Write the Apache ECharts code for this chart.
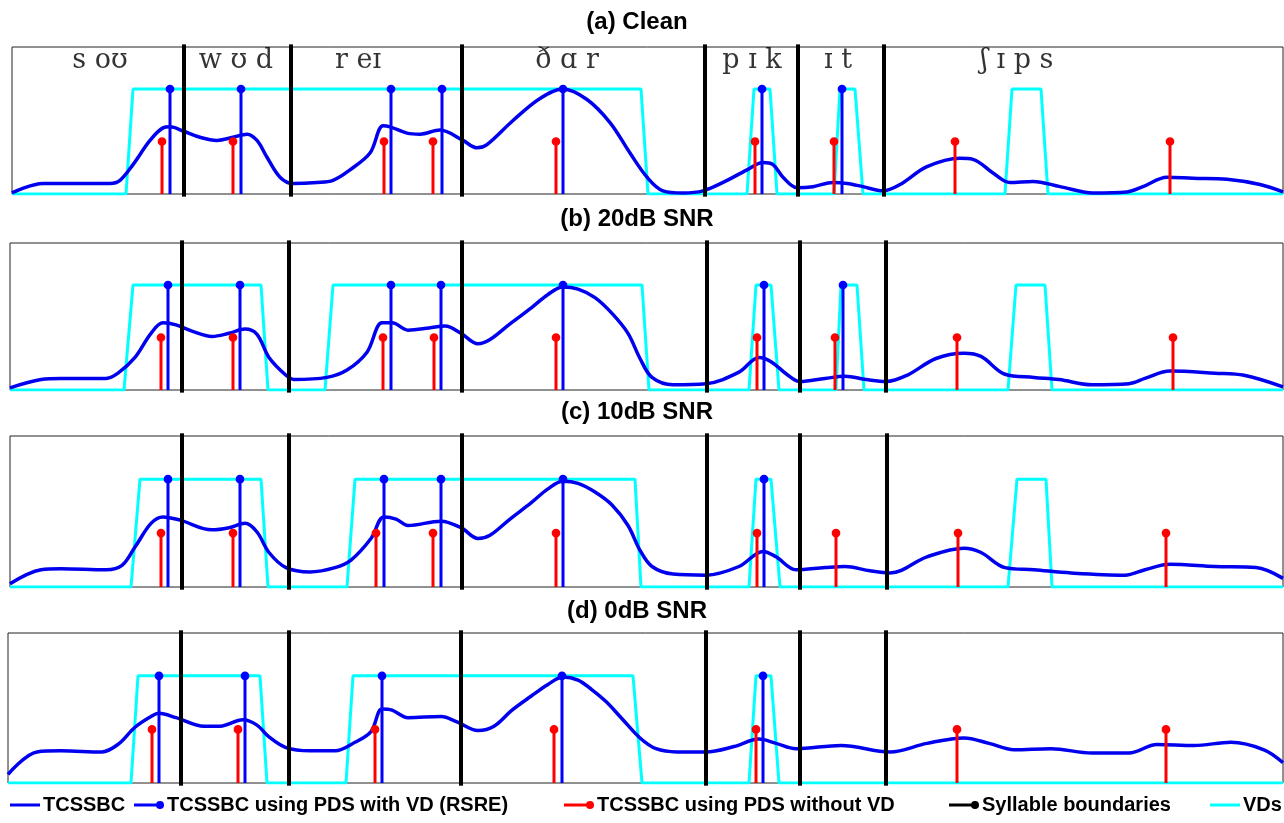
<!DOCTYPE html>
<html>
<head>
<meta charset="utf-8">
<script src="https://cdn.jsdelivr.net/npm/echarts@6/dist/echarts.min.js"></script>
<style>
  html, body { margin: 0; background: #fff; }
  #chart { width: 1284px; height: 823px; }
</style>
</head>
<body>
<div id="chart"></div>
<script>
// panel titles and phone labels (panel a)
const panelTitles = ["(a) Clean", "(b) 20dB SNR", "(c) 10dB SNR", "(d) 0dB SNR"];
const phones = ["s oʊ", "w ʊ d", "r eɪ", "ð ɑ r", "p ɪ k", "ɪ t", "ʃ ɪ p s"];
const phoneX = [100, 236, 358, 567, 752, 838, 1017];

// TCSSBC contour, [time, value]
const curveA = [[12,0.01],[43,0.10],[67,0.10],[110,0.10],[120,0.13],[133,0.28],[150,0.51],[163,0.63],[170,0.64],[183,0.60],[200,0.54],[217,0.51],[233,0.54],[247,0.57],[257,0.51],[267,0.35],[280,0.16],[293,0.10],[317,0.11],[333,0.13],[350,0.23],[370,0.39],[383,0.65],[390,0.64],[407,0.58],[420,0.57],[440,0.61],[463,0.51],[477,0.44],[487,0.47],[513,0.70],[540,0.91],[563,1.0],[587,0.90],[610,0.68],[630,0.39],[647,0.16],[663,0.03],[683,0.01],[703,0.03],[723,0.11],[747,0.23],[763,0.30],[773,0.28],[783,0.16],[797,0.06],[813,0.07],[833,0.11],[847,0.10],[863,0.07],[883,0.03],[900,0.09],[927,0.26],[960,0.34],[973,0.33],[993,0.20],[1010,0.11],[1033,0.12],[1060,0.07],[1093,0.01],[1127,0.02],[1143,0.07],[1167,0.16],[1193,0.15],[1227,0.14],[1260,0.09],[1283,0.02]];
const curveB = [[10,0.02],[41,0.10],[61,0.11],[106,0.11],[118,0.16],[135,0.31],[151,0.54],[163,0.64],[176,0.62],[192,0.56],[212,0.51],[229,0.54],[245,0.58],[257,0.53],[269,0.31],[286,0.14],[294,0.10],[327,0.12],[347,0.19],[367,0.36],[382,0.64],[392,0.64],[408,0.57],[429,0.59],[445,0.61],[461,0.54],[478,0.44],[490,0.48],[510,0.63],[531,0.78],[548,0.91],[563,0.98],[578,0.96],[595,0.88],[612,0.73],[628,0.54],[640,0.30],[652,0.12],[673,0.05],[706,0.06],[739,0.17],[759,0.31],[771,0.27],[788,0.14],[800,0.08],[825,0.11],[845,0.13],[866,0.10],[886,0.08],[907,0.14],[936,0.30],[964,0.35],[981,0.32],[1005,0.15],[1034,0.12],[1059,0.10],[1092,0.05],[1129,0.06],[1145,0.11],[1170,0.18],[1215,0.16],[1244,0.14],[1283,0.03]];
const curveC = [[10,0.03],[41,0.16],[61,0.17],[106,0.16],[122,0.20],[135,0.37],[151,0.59],[163,0.65],[180,0.62],[212,0.53],[229,0.55],[245,0.59],[257,0.51],[269,0.32],[286,0.18],[310,0.14],[335,0.18],[351,0.25],[371,0.45],[384,0.65],[396,0.63],[408,0.57],[441,0.61],[461,0.55],[478,0.45],[490,0.48],[510,0.63],[531,0.78],[548,0.91],[563,0.98],[578,0.96],[595,0.88],[612,0.76],[628,0.57],[640,0.34],[652,0.19],[673,0.12],[706,0.11],[739,0.19],[763,0.33],[776,0.28],[796,0.16],[825,0.18],[845,0.19],[870,0.15],[890,0.13],[927,0.28],[964,0.36],[981,0.32],[1005,0.18],[1034,0.16],[1071,0.13],[1125,0.11],[1145,0.16],[1170,0.21],[1215,0.19],[1256,0.18],[1283,0.08]];
const curveD = [[8,0.08],[37,0.29],[61,0.30],[102,0.29],[118,0.36],[135,0.52],[151,0.62],[159,0.65],[176,0.61],[204,0.53],[220,0.53],[243,0.59],[257,0.54],[269,0.43],[286,0.33],[310,0.30],[335,0.30],[355,0.38],[371,0.48],[382,0.69],[392,0.68],[408,0.61],[441,0.62],[457,0.57],[478,0.49],[494,0.53],[512,0.68],[531,0.81],[548,0.92],[563,0.99],[578,0.96],[592,0.87],[606,0.76],[622,0.60],[640,0.42],[656,0.32],[677,0.29],[706,0.29],[734,0.34],[759,0.41],[776,0.37],[796,0.32],[841,0.35],[890,0.29],[927,0.37],[964,0.42],[989,0.37],[1014,0.31],[1051,0.32],[1092,0.28],[1129,0.28],[1157,0.36],[1194,0.35],[1231,0.38],[1264,0.31],[1283,0.19]];

// voicing decisions (0 / 1)
const vdA = [[12,0],[126,0],[133,1],[641,1],[648,0],[747,0],[754,1],[770,1],[777,0],[834,0],[840,1],[855,1],[863,0],[1005,0],[1012,1],[1041,1],[1048,0],[1283,0]];
const vdB = [[10,0],[124,0],[133,1],[261,1],[268,0],[325,0],[333,1],[642,1],[649,0],[749,0],[756,1],[771,1],[779,0],[836,0],[841,1],[857,1],[864,0],[1008,0],[1016,1],[1045,1],[1052,0],[1283,0]];
const vdC = [[10,0],[131,0],[140,1],[261,1],[268,0],[347,0],[355,1],[635,1],[641,0],[749,0],[756,1],[771,1],[780,0],[1008,0],[1017,1],[1046,1],[1052,0],[1283,0]];
const vdD = [[8,0],[131,0],[138,1],[260,1],[267,0],[346,0],[353,1],[633,1],[642,0],[749,0],[756,1],[771,1],[779,0],[1283,0]];

// detected peaks
const blueA = [170, 241, 391, 442, 563, 762, 842];
const blueB = [168, 240, 391, 441, 563, 764, 843];
const blueC = [168, 240, 384, 441, 563, 764];
const blueD = [159, 245, 382, 562, 763];
const redA = [162, 233, 384, 433, 556, 755, 834, 955, 1170];
const redB = [161, 233, 383, 434, 556, 757, 835, 957, 1173];
const redC = [161, 233, 376, 433, 556, 757, 836, 958, 1166];
const redD = [152, 238, 375, 554, 756, 957, 1166];
const blueLevel = 1;
const redLevel = 0.5;

// syllable boundaries
const boundA = [184, 291, 462, 705, 798, 884];
const boundB = [182, 289, 462, 707, 800, 886];
const boundC = [182, 289, 462, 707, 800, 887];
const boundD = [181, 289, 461, 706, 800, 886];

const legendNames = ["TCSSBC", "TCSSBC using PDS with VD (RSRE)", "TCSSBC using PDS without VD", "Syllable boundaries", "VDs"];

const curves = [curveA, curveB, curveC, curveD];
const vds = [vdA, vdB, vdC, vdD];
const blues = [blueA, blueB, blueC, blueD];
const reds = [redA, redB, redC, redD];
const bounds = [boundA, boundB, boundC, boundD];

const chart = echarts.init(document.getElementById("chart"));
const sansFont = "'Liberation Sans', Arial, sans-serif";

const gridLeft = [12, 10, 10, 8];
const gridTop = [47, 243, 436, 633];
const gridHeight = [147, 147, 151, 150];
const titleY = [10, 207, 400, 599];

function stem(color) {
  return function (params, api) {
    const x = api.value(0);
    const p0 = api.coord([x, 0]);
    const p1 = api.coord([x, api.value(1)]);
    return {
      type: "group",
      children: [
        { type: "line", shape: { x1: p0[0], y1: p0[1], x2: p1[0], y2: p1[1] }, style: { stroke: color, lineWidth: 3 } },
        { type: "circle", shape: { cx: p1[0], cy: p1[1], r: 3.6 }, style: { fill: color, stroke: color, lineWidth: 1.5 } },
      ],
    };
  };
}

function boundary(params, api) {
  const x = api.value(0);
  const p0 = api.coord([x, -0.025]);
  const p1 = api.coord([x, 1.425]);
  return { type: "line", shape: { x1: p0[0], y1: p0[1], x2: p1[0], y2: p1[1] }, style: { stroke: "#000", lineWidth: 4 } };
}

const grids = [], xAxes = [], yAxes = [], series = [], titles = [];
for (let i = 0; i < 4; i++) {
  grids.push({
    left: gridLeft[i], right: 1, top: gridTop[i], height: gridHeight[i],
    show: true, borderColor: "#222", borderWidth: 1,
  });
  xAxes.push({
    type: "value", gridIndex: i, min: gridLeft[i], max: 1283,
    axisLine: { show: false }, axisTick: { show: false }, axisLabel: { show: false }, splitLine: { show: false },
  });
  yAxes.push({
    type: "value", gridIndex: i, min: 0, max: 1.4,
    axisLine: { show: false }, axisTick: { show: false }, axisLabel: { show: false }, splitLine: { show: false },
  });
  titles.push({
    text: panelTitles[i], left: 637, textAlign: "center", top: titleY[i], padding: 0,
    textStyle: { fontFamily: sansFont, fontWeight: "bold", fontSize: 24, color: "#000" },
  });
  series.push({
    name: "VDs", type: "line", xAxisIndex: i, yAxisIndex: i, data: vds[i],
    symbol: "none", color: "#00ffff", lineStyle: { color: "#00ffff", width: 3 }, z: 1, silent: true,
  });
  series.push({
    name: "TCSSBC", type: "line", xAxisIndex: i, yAxisIndex: i, data: curves[i],
    symbol: "none", smooth: 0.35, color: "#0000ee", lineStyle: { color: "#0000ee", width: 3.5 }, z: 2, silent: true,
  });
  series.push({
    name: "TCSSBC using PDS without VD", type: "custom", xAxisIndex: i, yAxisIndex: i,
    data: reds[i].map((x) => [x, redLevel]), renderItem: stem("#ff0000"),
    itemStyle: { color: "#ff0000" }, z: 3, silent: true,
  });
  series.push({
    name: "TCSSBC using PDS with VD (RSRE)", type: "custom", xAxisIndex: i, yAxisIndex: i,
    data: blues[i].map((x) => [x, blueLevel]), renderItem: stem("#0000ff"),
    itemStyle: { color: "#0000ff" }, z: 4, silent: true,
  });
  series.push({
    name: "Syllable boundaries", type: "custom", xAxisIndex: i, yAxisIndex: i,
    data: bounds[i].map((x) => [x]), renderItem: boundary,
    itemStyle: { color: "#000" }, z: 5, silent: true,
  });
}

// phone labels above panel (a)
series.push({
  type: "scatter", xAxisIndex: 0, yAxisIndex: 0, symbolSize: 0, silent: true,
  data: phoneX.map((x) => [x, 1.27]),
  label: {
    show: true, position: "inside", formatter: (p) => phones[p.dataIndex],
    fontFamily: "'DejaVu Serif', serif", fontSize: 27, color: "#000",
  },
});

const lineIcon = "path://M0,0H30V3H0Z";
const stemIcon = "path://M0,3.5H23V6.5H0Z M30,5A4,4 0 1,1 22,5A4,4 0 1,1 30,5Z";
const legendIcons = [lineIcon, stemIcon, stemIcon, stemIcon, lineIcon];
const legendLeft = [10, 134, 564, 949, 1210];

const legends = legendNames.map((n, i) => ({
  data: [{ name: n, icon: legendIcons[i] }],
  left: legendLeft[i], top: 795, padding: 0,
  itemWidth: 30, itemHeight: 10, selectedMode: false,
  textStyle: { fontFamily: sansFont, fontWeight: "bold", fontSize: 20, color: "#000", padding: [0, 0, 0, -2] },
}));

chart.setOption({
  animation: false,
  backgroundColor: "#fff",
  title: titles,
  legend: legends,
  grid: grids,
  xAxis: xAxes,
  yAxis: yAxes,
  series: series,
});
</script>
</body>
</html>
